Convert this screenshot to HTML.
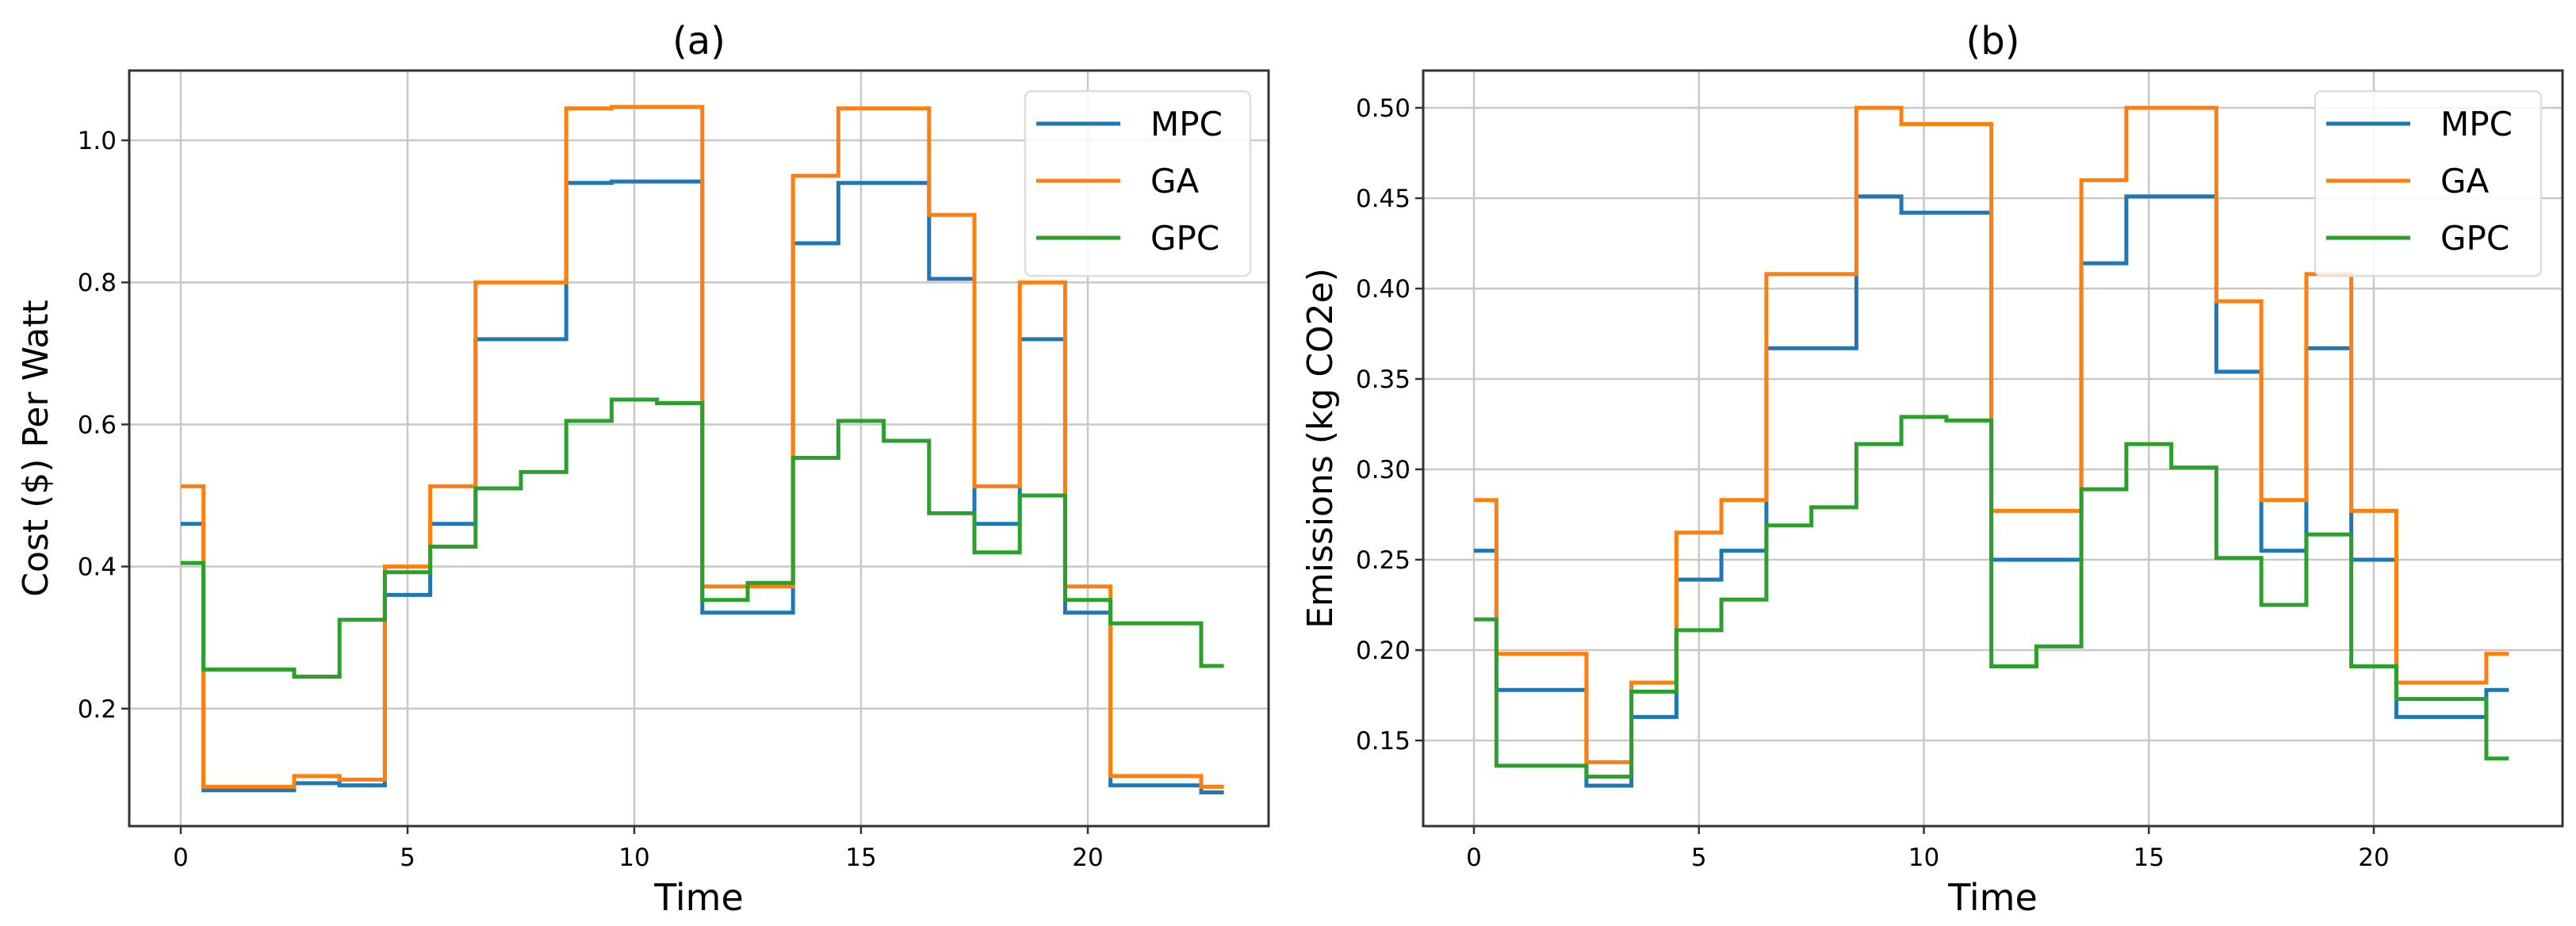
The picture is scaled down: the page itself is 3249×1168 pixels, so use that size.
<!DOCTYPE html>
<html><head><meta charset="utf-8">
<style>
html,body{margin:0;padding:0;background:#fff;}
svg{display:block;}
text{font-family:"DejaVu Sans","Liberation Sans",sans-serif;fill:#000;}
</style></head>
<body>
<svg id="chart" width="3249" height="1168" viewBox="0 0 3249 1168" xmlns="http://www.w3.org/2000/svg"></svg>
<script>
// ---- data ----
const times = [0,1,2,3,4,5,6,7,8,9,10,11,12,13,14,15,16,17,18,19,20,21,22,23];
const seriesNames = ["MPC","GA","GPC"];
const costMPC = [0.46,0.085,0.085,0.095,0.092,0.36,0.46,0.72,0.72,0.94,0.942,0.942,0.335,0.335,0.855,0.94,0.94,0.805,0.46,0.72,0.335,0.092,0.092,0.082];
const costGA  = [0.513,0.09,0.09,0.105,0.1,0.40,0.513,0.80,0.80,1.045,1.047,1.047,0.372,0.372,0.95,1.045,1.045,0.895,0.513,0.80,0.372,0.105,0.105,0.09];
const costGPC = [0.405,0.255,0.255,0.245,0.325,0.392,0.428,0.51,0.533,0.605,0.635,0.63,0.353,0.377,0.553,0.605,0.577,0.475,0.42,0.50,0.353,0.32,0.32,0.26];
const emMPC = [0.255,0.178,0.178,0.125,0.163,0.239,0.255,0.367,0.367,0.451,0.442,0.442,0.25,0.25,0.414,0.451,0.451,0.354,0.255,0.367,0.25,0.163,0.163,0.178];
const emGA  = [0.283,0.198,0.198,0.138,0.182,0.265,0.283,0.408,0.408,0.50,0.491,0.491,0.277,0.277,0.46,0.50,0.50,0.393,0.283,0.408,0.277,0.182,0.182,0.198];
const emGPC = [0.217,0.136,0.136,0.13,0.177,0.211,0.228,0.269,0.279,0.314,0.329,0.327,0.191,0.202,0.289,0.314,0.301,0.251,0.225,0.264,0.191,0.173,0.173,0.14];
const xTicks = [0,5,10,15,20];
const costTicks = [0.2,0.4,0.6,0.8,1.0];
const costTickLabels = ["0.2","0.4","0.6","0.8","1.0"];
const emTicks = [0.15,0.20,0.25,0.30,0.35,0.40,0.45,0.50];
const emTickLabels = ["0.15","0.20","0.25","0.30","0.35","0.40","0.45","0.50"];

const NS="http://www.w3.org/2000/svg";
const svg=document.getElementById('chart');
const colors={MPC:"#1f77b4",GA:"#ff7f0e",GPC:"#2ca02c"};
function el(tag,attrs,parent){const e=document.createElementNS(NS,tag);for(const k in attrs)e.setAttribute(k,attrs[k]);(parent||svg).appendChild(e);return e;}

function panel(cfg){
  const g=el('g',{});
  
  
  const {L,R,T,B}=cfg;
  const xs=t=>cfg.x0+t*cfg.xu;
  const ys=v=>cfg.yRef+(cfg.vRef-v)*cfg.yu;
  // grid
  xTicks.forEach(t=>{
    const l=el('line',{x1:xs(t),x2:xs(t),y1:T,y2:B,stroke:"#c8c8c8","stroke-width":2.5},g);
    
    
  });
  cfg.ticks.forEach(v=>{
    const l=el('line',{x1:L,x2:R,y1:ys(v),y2:ys(v),stroke:"#c8c8c8","stroke-width":2.5},g);
    
    
  });
  // series
  const data=cfg.data;
  seriesNames.forEach((n,si)=>{
    const vals=data[si];
    let d="";
    times.forEach((t,i)=>{
      const xa=i===0?xs(t):xs(t-0.5), xb=i===times.length-1?xs(t):xs(t+0.5);
      d+=(i===0?"M":"L")+xa.toFixed(1)+","+ys(vals[i]).toFixed(1)+"L"+xb.toFixed(1)+","+ys(vals[i]).toFixed(1);
    });
    const p=el('path',{d:d,fill:"none",stroke:colors[n],"stroke-width":5,"stroke-linejoin":"miter"},g);
    
    
  });
  // frame
  const f=el('rect',{x:L,y:T,width:R-L,height:B-T,fill:"none",stroke:"#333","stroke-width":3},g);
  
  
  // x ticks
  xTicks.forEach(t=>{
    el('line',{x1:xs(t),x2:xs(t),y1:B,y2:B+10,stroke:"#333","stroke-width":2.5},g);
    const tx=el('text',{x:xs(t),y:B+50,"font-size":31,"text-anchor":"middle"},g);
    tx.textContent=String(t);
    
    
  });
  cfg.ticks.forEach((v,i)=>{
    el('line',{x1:L-10,x2:L,y1:ys(v),y2:ys(v),stroke:"#333","stroke-width":2.5},g);
    const tx=el('text',{x:L-16,y:ys(v)+11,"font-size":31,"text-anchor":"end"},g);
    tx.textContent=cfg.tickLabels[i];
    
    
  });
  const tt=el('text',{x:(L+R)/2,y:68,"font-size":48,"text-anchor":"middle"},g);
  tt.textContent=cfg.title;
  
  
  const xl=el('text',{x:(L+R)/2,y:1148,"font-size":46,"text-anchor":"middle"},g);
  xl.textContent="Time";
  
  
  const yl=el('text',{x:0,y:0,"font-size":44,"text-anchor":"middle",transform:`translate(${cfg.ylx},${(T+B)/2}) rotate(-90)`},g);
  yl.textContent=cfg.ylabel;
  
  
  // legend
  const lg=el('g',{},g);
  
  
  el('rect',{x:cfg.lx,y:115,width:cfg.lw,height:233,rx:8,fill:"#fff","fill-opacity":0.85,stroke:"#ddd","stroke-width":2.5},lg);
  seriesNames.forEach((n,i)=>{
    const yy=156+i*72;
    const ln=el('line',{x1:cfg.lx+14,x2:cfg.lx+120,y1:yy,y2:yy,stroke:colors[n],"stroke-width":5},lg);
    
    
    const tx=el('text',{x:cfg.lx+158,y:yy+15,"font-size":42},lg);
    tx.textContent=n;
    
    
  });
}
panel({name:'cost-panel',L:163,R:1600,T:89,B:1042,x0:228,xu:57.2,yRef:177,vRef:1.0,yu:896,
  ticks:costTicks,tickLabels:costTickLabels,data:[costMPC,costGA,costGPC],title:"(a)",ylabel:"Cost ($) Per Watt",ylx:60,lx:1293,lw:284});
panel({name:'emissions-panel',L:1795,R:3232,T:89,B:1042,x0:1859,xu:56.75,yRef:136,vRef:0.50,yu:2280,
  ticks:emTicks,tickLabels:emTickLabels,data:[emMPC,emGA,emGPC],title:"(b)",ylabel:"Emissions (kg CO2e)",ylx:1680,lx:2920,lw:285});
</script>
</body></html>
